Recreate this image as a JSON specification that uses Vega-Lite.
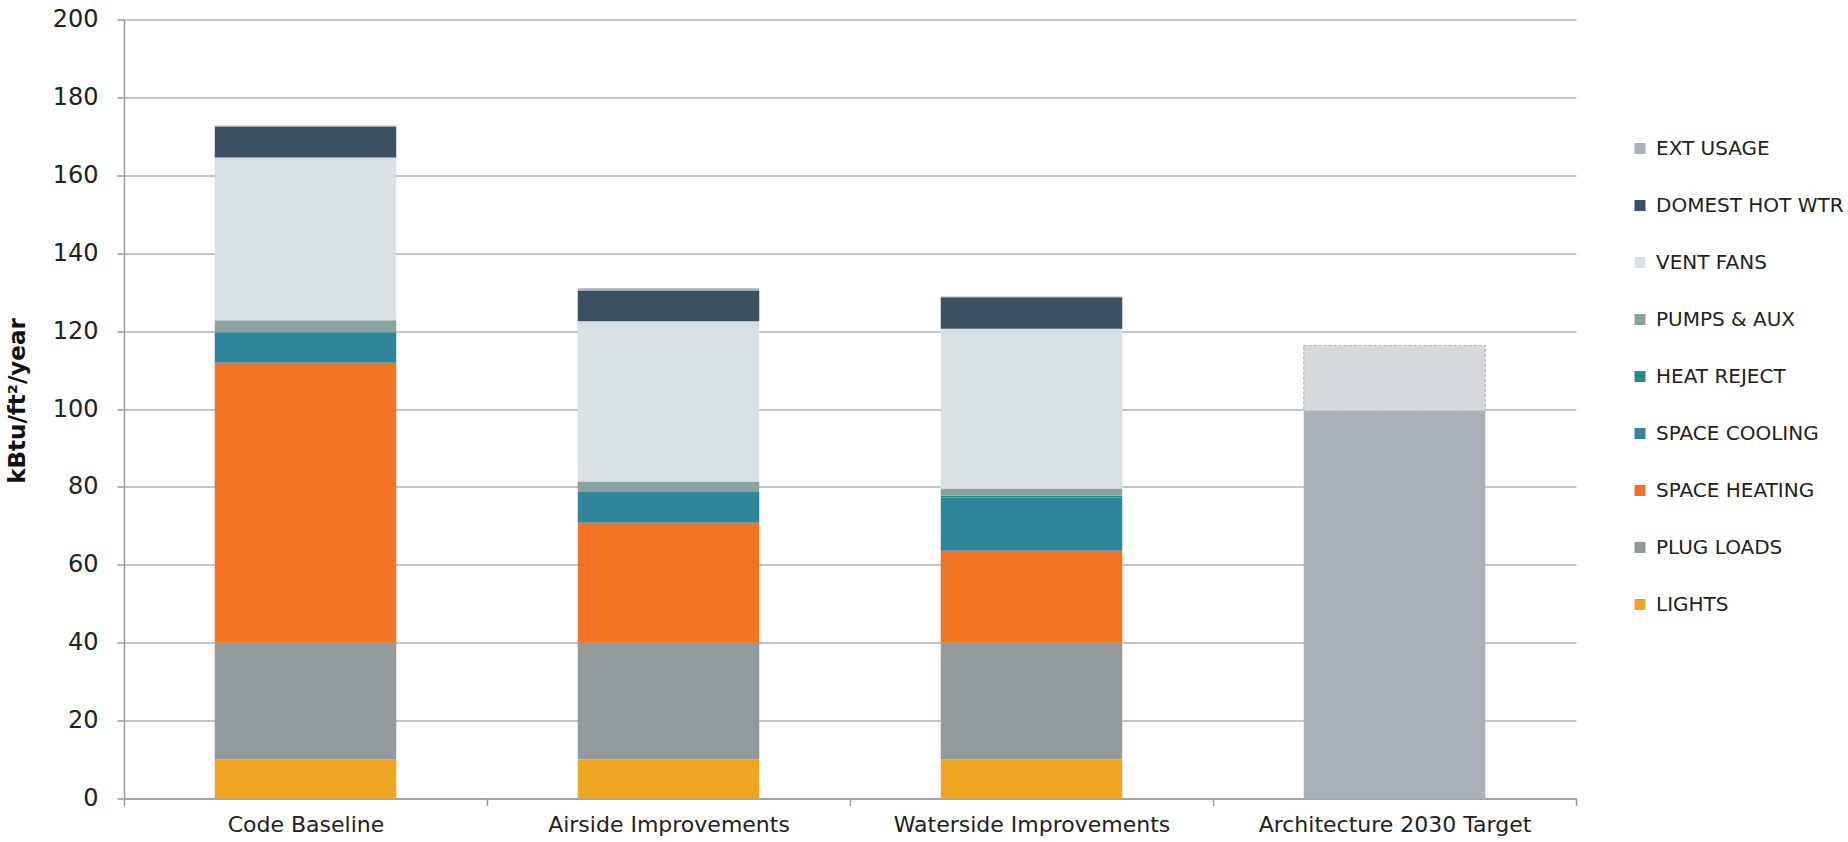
{
  "$schema": "https://vega.github.io/schema/vega-lite/v6.json",
  "width": 1452,
  "height": 779,
  "autosize": {"type": "none"},
  "padding": {"left": 124, "top": 19.5, "right": 272, "bottom": 43.5},
  "background": "white",
  "config": {"view": {"stroke": null}, "font": "DejaVu Sans"},
  "layer": [
    {
      "data": {
        "values": [
          {"scenario": "Code Baseline", "category": "LIGHTS", "o": 1, "value": 10},
          {"scenario": "Code Baseline", "category": "PLUG LOADS", "o": 2, "value": 30},
          {"scenario": "Code Baseline", "category": "SPACE HEATING", "o": 3, "value": 71.9},
          {"scenario": "Code Baseline", "category": "SPACE COOLING", "o": 4, "value": 7.8},
          {"scenario": "Code Baseline", "category": "HEAT REJECT", "o": 5, "value": 0},
          {"scenario": "Code Baseline", "category": "PUMPS & AUX", "o": 6, "value": 3.1},
          {"scenario": "Code Baseline", "category": "VENT FANS", "o": 7, "value": 41.8},
          {"scenario": "Code Baseline", "category": "DOMEST HOT WTR", "o": 8, "value": 7.9},
          {"scenario": "Code Baseline", "category": "EXT USAGE", "o": 9, "value": 0.3},
          {"scenario": "Airside Improvements", "category": "LIGHTS", "o": 1, "value": 10},
          {"scenario": "Airside Improvements", "category": "PLUG LOADS", "o": 2, "value": 30},
          {"scenario": "Airside Improvements", "category": "SPACE HEATING", "o": 3, "value": 30.8},
          {"scenario": "Airside Improvements", "category": "SPACE COOLING", "o": 4, "value": 7.9},
          {"scenario": "Airside Improvements", "category": "HEAT REJECT", "o": 5, "value": 0},
          {"scenario": "Airside Improvements", "category": "PUMPS & AUX", "o": 6, "value": 2.7},
          {"scenario": "Airside Improvements", "category": "VENT FANS", "o": 7, "value": 41.1},
          {"scenario": "Airside Improvements", "category": "DOMEST HOT WTR", "o": 8, "value": 7.9},
          {"scenario": "Airside Improvements", "category": "EXT USAGE", "o": 9, "value": 0.6},
          {"scenario": "Waterside Improvements", "category": "LIGHTS", "o": 1, "value": 10},
          {"scenario": "Waterside Improvements", "category": "PLUG LOADS", "o": 2, "value": 30},
          {"scenario": "Waterside Improvements", "category": "SPACE HEATING", "o": 3, "value": 23.6},
          {"scenario": "Waterside Improvements", "category": "SPACE COOLING", "o": 4, "value": 13.7},
          {"scenario": "Waterside Improvements", "category": "HEAT REJECT", "o": 5, "value": 0.4},
          {"scenario": "Waterside Improvements", "category": "PUMPS & AUX", "o": 6, "value": 1.9},
          {"scenario": "Waterside Improvements", "category": "VENT FANS", "o": 7, "value": 41.0},
          {"scenario": "Waterside Improvements", "category": "DOMEST HOT WTR", "o": 8, "value": 8.1},
          {"scenario": "Waterside Improvements", "category": "EXT USAGE", "o": 9, "value": 0.2},
          {"scenario": "Architecture 2030 Target", "category": "EXT USAGE", "o": 9, "value": 99.5}
        ]
      },
      "mark": {"type": "bar", "width": {"band": 0.5}},
      "encoding": {
        "x": {
          "field": "scenario",
          "type": "nominal",
          "sort": ["Code Baseline", "Airside Improvements", "Waterside Improvements", "Architecture 2030 Target"],
          "scale": {"paddingInner": 0, "paddingOuter": 0},
          "axis": {
            "title": null,
            "labelAngle": 0,
            "labelFontSize": 22,
            "labelColor": "#222222",
            "labelPadding": 9,
            "labelLimit": 0,
            "tickBand": "extent",
            "tickSize": 7,
            "tickColor": "#9a9a9a",
            "tickWidth": 1.5,
            "domainColor": "#9a9a9a",
            "domainWidth": 1.5,
            "grid": false
          }
        },
        "y": {
          "field": "value",
          "type": "quantitative",
          "stack": "zero",
          "title": "kBtu/ft²/year",
          "scale": {"domain": [0, 200], "nice": false},
          "axis": {
            "values": [0, 20, 40, 60, 80, 100, 120, 140, 160, 180, 200],
            "labelFontSize": 24,
            "labelColor": "#222222",
            "labelPadding": 19,
            "tickSize": 7,
            "tickColor": "#9a9a9a",
            "tickWidth": 1.5,
            "domainColor": "#9a9a9a",
            "domainWidth": 1.5,
            "grid": true,
            "gridColor": "#b0b0b0",
            "gridWidth": 1.5,
            "titleFontSize": 23,
            "titleFontWeight": "bold",
            "titleColor": "#111111",
            "titlePadding": 23,
            "titleY": 381
          }
        },
        "color": {
          "field": "category",
          "type": "nominal",
          "scale": {
            "domain": ["EXT USAGE", "DOMEST HOT WTR", "VENT FANS", "PUMPS & AUX", "HEAT REJECT", "SPACE COOLING", "SPACE HEATING", "PLUG LOADS", "LIGHTS"],
            "range": ["#a9b0b7", "#3b5060", "#d9e0e3", "#88a29e", "#228e7b", "#31869c", "#f27324", "#939a9d", "#eea622"]
          },
          "legend": {
            "orient": "none",
            "legendX": 1506,
            "legendY": 119,
            "title": null,
            "symbolType": "square",
            "symbolSize": 121,
            "symbolStrokeWidth": 0,
            "labelFontSize": 20,
            "labelColor": "#222222",
            "labelOffset": 6,
            "labelLimit": 0,
            "rowPadding": 37,
            "padding": 0
          }
        },
        "order": {"field": "o", "type": "quantitative", "sort": "ascending"}
      }
    },
    {
      "data": {
        "values": [
          {"scenario": "Architecture 2030 Target", "low": 99.5, "high": 116.3}
        ]
      },
      "mark": {"type": "bar", "width": {"band": 0.5}, "fill": "#d5d9dc", "stroke": "#b5b9bd", "strokeDash": [3, 2], "strokeWidth": 1.2},
      "encoding": {
        "x": {
          "field": "scenario",
          "type": "nominal",
          "sort": ["Code Baseline", "Airside Improvements", "Waterside Improvements", "Architecture 2030 Target"]
        },
        "y": {"field": "low", "type": "quantitative", "title": "kBtu/ft²/year"},
        "y2": {"field": "high"}
      }
    }
  ]
}
